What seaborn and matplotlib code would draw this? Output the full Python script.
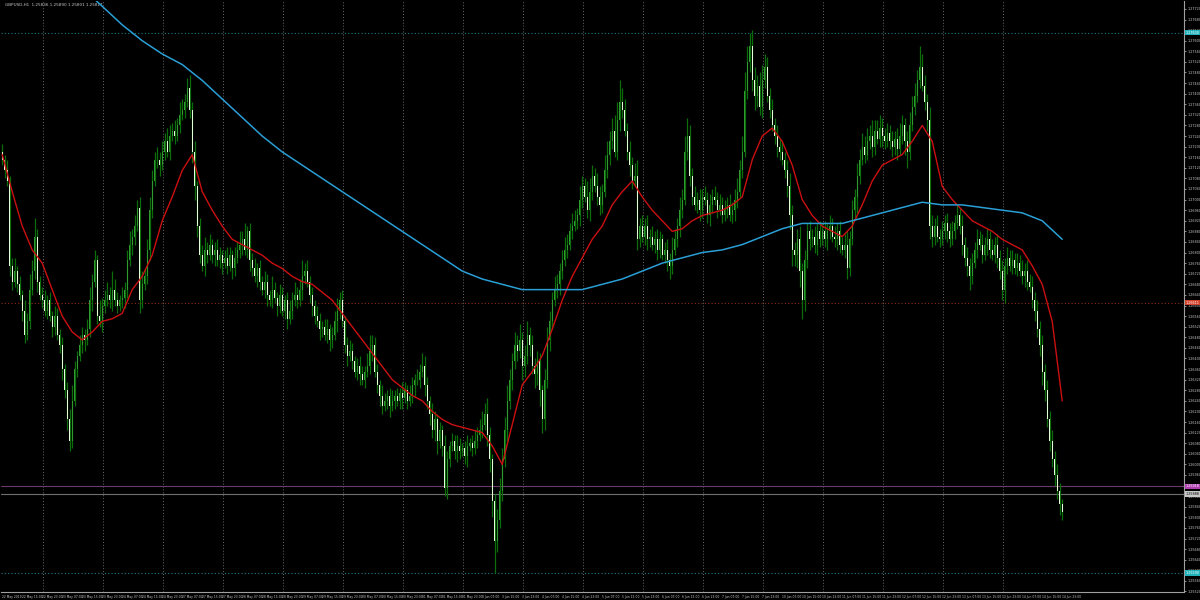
import numpy as np
import matplotlib
matplotlib.use("Agg")
import matplotlib.pyplot as plt
import matplotlib.transforms as mtransforms
from matplotlib.ticker import MultipleLocator, FormatStrFormatter
import seaborn as sns

# chart header and time axis
title_text = "GBPUSD,H1  1.25836 1.25890 1.25801 1.25817"
year = "2019"
days = ["22 May", "23 May", "24 May", "27 May", "28 May", "29 May", "30 May", "31 May",
        "3 Jun", "4 Jun", "5 Jun", "6 Jun", "7 Jun", "10 Jun", "11 Jun", "12 Jun", "13 Jun", "14 Jun"]
first_hour = 7

# prices in pips above 1.2000
open_first = 718
close_pips = [
    715, 711, 707, 675, 669, 673, 668, 664, 658, 649, 654, 666, 673, 686, 669, 664, 662, 658, 662, 656,
    652, 656, 649, 645, 636, 628, 617, 609, 624, 636, 641,
    645, 649, 647, 651, 662, 669, 677, 656, 654, 660, 662, 664, 662, 666, 662, 660, 662, 663, 666, 677,
    683, 686, 690, 697, 662, 668, 671, 681, 696, 707, 715, 715, 713, 718, 722, 718, 724, 726, 724, 728,
    732, 734, 737, 742, 734,
    718, 705, 690, 679, 675, 681, 679, 683, 679, 681, 677, 679, 676, 678, 675, 679, 674, 678, 681, 683,
    685, 681, 688, 677, 674, 671, 674, 669, 666, 669, 664, 662, 666, 663, 660, 664, 658, 662, 655, 658,
    662, 664, 662, 666, 671,
    673, 669, 664, 660, 656, 654, 651, 652, 649, 651, 647, 649, 654, 658, 662, 654, 645, 641, 643, 639,
    635, 637, 634, 632, 635, 637, 643, 645, 635, 630, 626, 622, 624, 626, 622, 624, 626, 624, 627, 625,
    628, 624, 626, 630, 632, 632, 635, 637, 630, 624,
    619, 613, 617, 609, 613, 607, 591, 602, 607, 609, 605, 607, 605, 606, 603, 607, 608, 606, 609, 611,
    613, 615, 619, 611, 602, 586, 571, 579, 590, 602,
    613, 624, 632, 639, 645, 643, 647, 637, 641, 649, 645, 637, 634, 639, 628, 617, 632, 647, 654, 662,
    666, 668, 673, 677, 681, 683, 688, 690, 692, 694, 700, 705, 701, 696, 703, 709, 705, 701, 698, 703,
    711, 717, 722, 726, 718, 730, 737, 734, 726, 718, 713, 707, 709, 685, 690, 686, 690, 685, 686, 683,
    685, 681, 685, 679, 681, 677, 675, 681, 685, 690, 696, 700, 718, 724, 709, 701, 698, 700, 696, 701,
    700, 694, 698, 701, 700, 696, 698, 694, 696, 698,
    694, 696, 700, 703, 711, 718, 741, 752, 758, 745, 739, 743, 735, 745, 750, 739, 734, 728, 724, 720,
    718, 715, 711, 705, 694, 681, 679, 685, 673, 662, 677, 688, 685, 686, 683, 688, 685, 688, 685, 688,
    690, 686, 685, 688, 683, 681, 683, 674, 685, 696,
    701, 709, 715, 720, 717, 722, 724, 720, 726, 723, 727, 724, 722, 725, 722, 720, 723, 719, 724, 728,
    722, 718, 728, 735, 739, 745, 750, 743, 737, 730, 690, 686, 690, 686, 685, 688, 691, 688, 685, 688,
    691, 694, 690, 683, 678, 675, 671, 676, 681, 685, 683, 679, 683, 685, 681, 679, 683, 678, 673, 666,
    675, 678, 675, 677, 674, 676, 673, 671, 673, 669, 667, 662, 658, 651, 645, 635, 628, 617, 609, 602,
    596, 590, 585, 582,
]
wick_up = [
    3, 2, 4, 2, 3, 5, 2, 3, 2, 4, 3, 6, 4, 7, 3, 2, 3, 4, 2, 3, 2, 4, 3, 2, 3,
    2, 3, 4, 6, 3, 2, 4, 3, 2, 4, 5, 3, 4, 2, 6, 3, 4, 5, 3, 7, 4, 3, 2, 4, 3,
    4, 5, 3, 4, 3, 4, 5, 3, 4, 5, 4, 3, 5, 3, 4, 3, 5, 4, 3, 4, 3, 5, 4, 3, 4,
    5, 3, 4, 2, 3, 4, 5, 3, 4, 2, 3, 4, 3, 2, 3, 4, 3, 2, 4, 3, 5, 3, 6, 2, 3,
    3, 4, 2, 3, 2, 4, 3, 2, 5, 3, 2, 4, 3, 2, 3, 4, 3, 5, 3, 4, 6, 3, 4, 2, 3,
    2, 4, 3, 2, 3, 4, 2, 3, 4, 5, 3, 4, 2, 3, 4, 3, 2, 3, 4, 3, 2, 5, 6, 4, 3,
    3, 2, 4, 3, 2, 3, 4, 2, 3, 2, 4, 3, 2, 4, 3, 2, 4, 3, 5, 4, 3, 2, 4, 3, 2,
    3, 2, 4, 3, 2, 3, 2, 4, 3, 2, 3, 4, 2, 3, 4, 3, 4, 5, 4, 6, 3, 2, 3, 4, 5,
    4, 5, 6, 4, 3, 5, 4, 6, 3, 4, 5, 3, 4, 3, 4, 3, 2, 4, 5, 4, 3, 5, 4, 3, 4,
    5, 4, 3, 5, 4, 3, 5, 4, 3, 6, 5, 4, 3, 5, 4, 3, 6, 5, 4, 5, 6, 7, 8, 5, 4,
    3, 4, 3, 5, 6, 3, 4, 3, 4, 3, 4, 3, 4, 3, 2, 3, 4, 3, 5, 4, 3, 5, 4, 6, 7,
    4, 3, 4, 3, 4, 3, 4, 3, 4, 3, 4, 3, 4, 3, 4, 3, 4, 3, 4, 5, 4, 6, 7, 6, 5,
    6, 5, 4, 5, 6, 5, 4, 3, 4, 3, 4, 3, 4, 3, 4, 5, 4, 3, 4, 5, 3, 4, 3, 4, 3,
    4, 3, 4, 3, 4, 3, 4, 3, 4, 3, 4, 3, 4, 5, 3, 4, 3, 5, 4, 5, 4, 5, 4, 6, 4,
    4, 5, 4, 3, 4, 3, 4, 3, 4, 5, 4, 3, 4, 5, 4, 5, 4, 8, 5, 4, 3, 5, 4, 3, 4,
    3, 4, 3, 4, 3, 4, 3, 4, 3, 4, 3, 4, 3, 4, 3, 4, 3, 4, 3, 4, 3, 4, 3, 4, 3,
    4, 3, 4, 3, 4, 3, 4, 3, 4, 3, 4, 3, 4, 3, 4, 3, 4, 3, 4, 3, 4, 3, 4, 3, 2,
]
wick_dn = [
    2, 3, 2, 4, 3, 2, 3, 2, 4, 3, 2, 3, 2, 3, 4, 2, 3, 2, 3, 2, 4, 3, 2, 3, 4,
    3, 4, 4, 3, 2, 3, 2, 3, 4, 2, 3, 4, 2, 3, 2, 4, 3, 2, 3, 4, 2, 3, 2, 3, 4,
    3, 2, 4, 3, 2, 5, 3, 2, 3, 4, 3, 2, 3, 4, 2, 3, 2, 3, 2, 3, 2, 3, 2, 3, 2,
    3, 4, 5, 4, 3, 2, 4, 3, 2, 3, 4, 2, 3, 4, 2, 3, 2, 4, 3, 2, 3, 4, 2, 3, 4,
    3, 2, 4, 3, 2, 3, 4, 2, 3, 2, 4, 3, 2, 3, 4, 2, 3, 2, 3, 2, 4, 3, 2, 3, 4,
    3, 2, 4, 3, 2, 3, 4, 3, 2, 4, 3, 2, 3, 4, 2, 3, 2, 3, 4, 2, 3, 2, 3, 4, 2,
    3, 4, 3, 2, 3, 4, 2, 3, 2, 3, 4, 2, 3, 2, 3, 4, 2, 3, 2, 4, 3, 4, 3, 4, 5,
    3, 4, 3, 4, 3, 2, 3, 4, 3, 2, 3, 4, 2, 3, 2, 3, 2, 3, 2, 4, 5, 6, 12, 4, 3,
    4, 3, 4, 3, 4, 3, 4, 3, 5, 4, 3, 4, 3, 5, 4, 6, 5, 4, 3, 4, 3, 2, 3, 4, 3,
    2, 3, 2, 3, 2, 3, 4, 3, 2, 3, 4, 3, 2, 3, 4, 3, 2, 3, 4, 3, 2, 3, 4, 3, 2,
    3, 4, 3, 2, 4, 3, 2, 3, 4, 3, 2, 3, 4, 3, 2, 3, 4, 5, 3, 2, 3, 4, 3, 2, 3,
    4, 3, 2, 3, 4, 3, 2, 3, 4, 3, 2, 3, 2, 3, 2, 3, 2, 3, 4, 3, 2, 3, 2, 3, 4,
    4, 5, 4, 3, 4, 3, 2, 3, 2, 3, 4, 3, 2, 3, 4, 5, 6, 4, 5, 6, 7, 4, 3, 4, 3,
    3, 4, 3, 2, 3, 4, 3, 2, 3, 4, 3, 2, 3, 4, 3, 2, 3, 6, 3, 2, 3, 2, 3, 4, 3,
    2, 3, 4, 3, 2, 3, 4, 3, 4, 2, 3, 5, 6, 3, 2, 3, 2, 3, 2, 3, 4, 5, 4, 3, 2,
    3, 2, 3, 4, 3, 2, 3, 2, 3, 4, 3, 4, 5, 3, 2, 3, 2, 3, 2, 4, 3, 2, 3, 4, 3,
    4, 5, 3, 2, 3, 2, 3, 2, 3, 4, 3, 2, 3, 4, 3, 4, 5, 4, 3, 4, 3, 4, 3, 4, 3,
]

# moving averages, read every 4 bars (red) and every 8 bars from bar 32 (blue)
red_ma_pips = [
    717, 703, 690, 681, 676, 666, 656, 650, 647, 650,
    654, 655, 657, 666, 671, 679, 692, 701, 711, 717,
    703, 696, 690, 685, 683, 681, 679, 676, 674, 671,
    669, 668, 665, 662, 657, 652, 647, 642, 637, 632,
    629, 626, 624, 620, 617, 615, 614, 613, 612, 607,
    600, 615, 630, 635, 641, 651, 662, 671, 678, 685,
    690, 698, 703, 707, 701, 696, 692, 688, 689, 692,
    694, 695, 696, 698, 701, 715, 724, 727, 722, 713,
    700, 694, 690, 688, 686, 690, 698, 707, 713, 715,
    717, 722, 728, 722, 705, 700, 696, 692, 690, 688,
    685, 683, 681, 675, 668, 654, 624,
]
blue_ma_pips = [
    780, 773, 766, 760, 755, 751, 745, 738, 731, 724,
    718, 713, 708, 703, 698, 693, 688, 683, 678, 673,
    670, 668, 666, 666, 666, 666, 668, 670, 673, 676,
    678, 680, 681, 683, 686, 689, 691, 691, 691, 693,
    695, 697, 699, 698, 698, 697, 696, 695, 692, 685,
]

# price levels drawn as horizontal lines with boxed labels on the axis
level_values = [1.27630, 1.26611, 1.25918, 1.25888, 1.25590]
level_colors = ["#20b2b8", "#d2402a", "#b040b0", "#c8c8c8", "#20b2b8"]
level_styles = [":", ":", "-", "-", ":"]
level_line_colors = ["#1e7a80", "#8a2a10", "#6a3a6a", "#707070", "#1e7a80"]

# ------------------------------------------------------------------
sns.set_theme(style="dark")
plt.rcParams["font.family"] = ["DejaVu Sans"]

n = len(close_pips)
assert len(wick_up) == n and len(wick_dn) == n

c = 1.2 + np.array(close_pips) / 10000
o = np.r_[1.2 + open_first / 10000, c[:-1]]
hi = np.maximum(o, c) + np.array(wick_up) / 10000
lo = np.minimum(o, c) - np.array(wick_dn) / 10000
x = np.arange(n)

# bar times
labels, midnights = [], []
i = 0
for d_i, d in enumerate(days):
    for h in range(first_hour if d_i == 0 else 0, 24):
        if h == 0:
            midnights.append(i)
        if i % 8 == 0:
            labels.append((i, f"{d} {year}" if i == 0 else f"{d} {h:02d}:00"))
        i += 1

fig = plt.figure(figsize=(12, 6), dpi=100, facecolor="black")
ax = fig.add_axes([0.0008, 1 - 592 / 600, (1184 - 1) / 1200, (592 - 1) / 600])
ax.set_facecolor("black")

for m in midnights:
    ax.axvline(m - 0.5, color="#6a6a6a", lw=0.7, ls=(0, (1, 2)), zorder=1)

for val, lc, ls in zip(level_values, level_line_colors, level_styles):
    ax.axhline(val, color=lc, lw=0.8, ls=ls if ls == "-" else (0, (1, 2)), zorder=1)

ax.vlines(x, lo, hi, color="#0b6e0b", lw=0.9, zorder=2)
bull = c >= o
ax.bar(x[bull], (c - o)[bull], bottom=o[bull], width=0.55, color="#2f9a2f", lw=0, zorder=3)
ax.bar(x[~bull], (o - c)[~bull], bottom=c[~bull], width=0.55, color="#e4ffd8", lw=0, zorder=3)

red_x = np.arange(0, n, 4)
blue_x = np.arange(32, n, 8)
sns.lineplot(x=red_x, y=1.2 + np.array(red_ma_pips) / 10000, ax=ax, color="#cc1010", lw=1.0, zorder=4)
sns.lineplot(x=blue_x, y=1.2 + np.array(blue_ma_pips) / 10000, ax=ax, color="#2a9fd6", lw=1.1, zorder=4)

ax.set_xlim(-0.5, (1184 - 1) / 2.5 - 0.5)
ax.set_ylim(1.25518, 1.27750)
ax.set_xlabel("")
ax.set_ylabel("")

ax.yaxis.tick_right()
ax.yaxis.set_major_locator(MultipleLocator(0.0004))
ax.yaxis.set_major_formatter(FormatStrFormatter("%.5f"))
ax.tick_params(axis="y", colors="#c8c8c8", labelsize=2.4, length=1.5, width=0.5, pad=0.8)
ax.set_xticks([p for p, _ in labels])
ax.set_xticklabels([t for _, t in labels], ha="left")
ax.tick_params(axis="x", colors="#c8c8c8", labelsize=2.2, length=2, width=0.5, pad=0.5)
ax.grid(False)
for side in ["left", "top"]:
    ax.spines[side].set_visible(False)
for side in ["right", "bottom"]:
    ax.spines[side].set_color("#a0a0a0")
    ax.spines[side].set_linewidth(0.8)

trans = mtransforms.blended_transform_factory(ax.transAxes, ax.transData)
for val, bc in zip(level_values, level_colors):
    ax.text(1.0015, val, f"{val:.5f}", transform=trans, fontsize=2.4, va="center", ha="left",
            color="black" if bc == "#c8c8c8" else "white",
            bbox=dict(facecolor=bc, edgecolor="none", pad=0.4), zorder=6, clip_on=False)

ax.text(0.003, 0.997, title_text, transform=ax.transAxes, fontsize=3.0, color="#c8c8c8",
        va="top", ha="left")

fig.savefig("out.png", dpi=100, facecolor="black")
